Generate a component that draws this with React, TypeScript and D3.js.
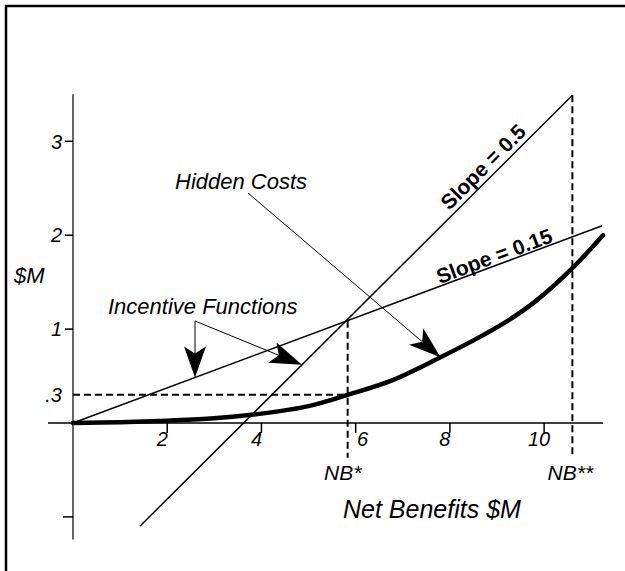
import * as d3 from 'd3'

// axis ticks
const xTicks = [2, 4, 6, 8, 10]
const yTicks = [3, 2, 1, -1]
const yTickLabels = ['3', '2', '1', '']
const costLevel = 0.3
const costLabel = '.3'

// hidden cost curve (thick)
const hiddenX = [0, 1, 2, 3, 4, 5, 5.83, 6.8, 7.8, 8.5, 9.2, 9.8, 10.6, 11.25]
const hiddenY = [0, 0.008, 0.025, 0.05, 0.1, 0.18, 0.3, 0.46, 0.7, 0.88, 1.08, 1.29, 1.65, 2.0]

// incentive functions
const flatX = [0, 11.23]
const flatY = [0, 2.1]
const steepX = [1.42, 10.6]
const steepY = [-1.1, 3.49]

const nbStar = 5.83
const nbStarStar = 10.6
const dashBottom = -0.37

const FONT = "Arial, 'Liberation Sans', sans-serif"

const x = d3.scaleLinear().domain([0, 11.25]).range([73, 603])
const y = d3.scaleLinear().domain([0, 3]).range([423, 141.3])

const lineOn = (xs: number[], ys: number[]) => (v: number) =>
  ys[0] + ((ys[1] - ys[0]) * (v - xs[0])) / (xs[1] - xs[0])
const flatAt = lineOn(flatX, flatY)
const steepAt = lineOn(steepX, steepY)
const hiddenAt = (v: number) => {
  const i = d3.bisectLeft(hiddenX, v)
  if (i <= 0) return hiddenY[0]
  const t = (v - hiddenX[i - 1]) / (hiddenX[i] - hiddenX[i - 1])
  return hiddenY[i - 1] + t * (hiddenY[i] - hiddenY[i - 1])
}

function arrowHead(tx: number, ty: number, fx: number, fy: number, len = 30, half = 10, notch = 8) {
  const a = Math.atan2(ty - fy, tx - fx)
  const ux = Math.cos(a), uy = Math.sin(a)
  const nx = -uy, ny = ux
  const bx = tx - ux * len, by = ty - uy * len
  const pts = [
    [tx, ty],
    [bx + nx * half, by + ny * half],
    [tx - ux * (len - notch), ty - uy * (len - notch)],
    [bx - nx * half, by - ny * half],
  ]
  return {
    d: 'M' + pts.map(p => p.join(',')).join('L') + 'Z',
    neck: pts[2],
  }
}

function SlopeLabel({ xs, ys, at, text, off }: { xs: number[]; ys: number[]; at: number; text: string; off: number }) {
  const f = lineOn(xs, ys)
  const px = x(at), py = y(f(at))
  const ang = (Math.atan2(y(ys[1]) - y(ys[0]), x(xs[1]) - x(xs[0])) * 180) / Math.PI
  return (
    <text
      transform={`translate(${px},${py}) rotate(${ang})`}
      y={-off}
      textAnchor="middle"
      fontFamily={FONT}
      fontWeight="bold"
      fontSize={21}
    >
      {text}
    </text>
  )
}

export default function App() {
  const curve = d3.line<number>()
    .x((_, i) => x(hiddenX[i]))
    .y(d => y(d))
    .curve(d3.curveCatmullRom.alpha(0.5))(hiddenY) || ''

  // annotation leaders
  const hcFrom = [248, 193]
  const hcTipX = 7.8
  const hc = arrowHead(x(hcTipX), y(hiddenAt(hcTipX)), hcFrom[0], hcFrom[1], 32, 11, 8)

  const ifFrom = [195, 321]
  const tip1X = x.invert(195)
  const a1 = arrowHead(x(tip1X), y(flatAt(tip1X)), ifFrom[0], ifFrom[1], 31, 11, 7)
  const tip2X = 4.86
  const a2 = arrowHead(x(tip2X), y(steepAt(tip2X)), ifFrom[0], ifFrom[1], 32, 11, 7)

  return (
    <svg
      width={625}
      height={571}
      style={{ position: 'absolute', left: 0, top: 0, display: 'block', background: '#fff' }}
    >
      {/* frame */}
      <path d="M6,575V6H630" fill="none" stroke="#000" strokeWidth={2.5} />

      {/* axes */}
      <line x1={x(-0.53)} x2={x(11.25)} y1={y(0)} y2={y(0)} stroke="#000" strokeWidth={1.5} />
      <line x1={x(0)} x2={x(0)} y1={y(3.5)} y2={y(-1.24)} stroke="#000" strokeWidth={1.2} />

      {xTicks.map(t => (
        <g key={t}>
          <line x1={x(t)} x2={x(t)} y1={y(0)} y2={y(0) + 10} stroke="#000" strokeWidth={1.5} />
          <text
            x={x(t) + (t === 6 ? 7 : -5)}
            y={446}
            textAnchor="middle"
            fontFamily={FONT}
            fontStyle="italic"
            fontSize={20}
          >
            {t}
          </text>
        </g>
      ))}

      {yTicks.map((t, i) => (
        <g key={t}>
          <line x1={x(0) - (t < 0 ? 10 : 8)} x2={x(0)} y1={y(t)} y2={y(t)} stroke="#000" strokeWidth={1.5} />
          <text
            x={62}
            y={y(t)}
            dy="0.36em"
            textAnchor="end"
            fontFamily={FONT}
            fontStyle="italic"
            fontSize={20}
          >
            {yTickLabels[i]}
          </text>
        </g>
      ))}
      <text x={62} y={y(costLevel)} dy="0.36em" textAnchor="end" fontFamily={FONT} fontStyle="italic" fontSize={20}>
        {costLabel}
      </text>

      {/* dashed guides */}
      <g stroke="#000" strokeWidth={2} strokeDasharray="7,4" fill="none">
        <line x1={x(0)} x2={x(nbStar)} y1={y(costLevel)} y2={y(costLevel)} />
        <line x1={x(nbStar)} x2={x(nbStar)} y1={y(flatAt(nbStar))} y2={y(dashBottom)} />
        <line x1={x(nbStarStar)} x2={x(nbStarStar)} y1={y(steepAt(nbStarStar))} y2={y(dashBottom)} />
      </g>

      {/* incentive lines */}
      <line x1={x(flatX[0])} y1={y(flatY[0])} x2={x(flatX[1])} y2={y(flatY[1])} stroke="#000" strokeWidth={1.5} />
      <line x1={x(steepX[0])} y1={y(steepY[0])} x2={x(steepX[1])} y2={y(steepY[1])} stroke="#000" strokeWidth={1.5} />

      {/* hidden cost curve */}
      <path d={curve} fill="none" stroke="#000" strokeWidth={4.5} strokeLinecap="round" />

      <SlopeLabel xs={steepX} ys={steepY} at={8.89} text="Slope = 0.5" off={5} />
      <SlopeLabel xs={flatX} ys={flatY} at={9.01} text="Slope = 0.15" off={2} />

      {/* annotations */}
      <text x={175} y={189} fontFamily={FONT} fontStyle="italic" fontSize={22}>Hidden Costs</text>
      <line x1={hcFrom[0]} y1={hcFrom[1]} x2={hc.neck[0]} y2={hc.neck[1]} stroke="#000" strokeWidth={1} />
      <path d={hc.d} fill="#000" />

      <text x={108} y={314} fontFamily={FONT} fontStyle="italic" fontSize={22}>Incentive Functions</text>
      <line x1={ifFrom[0]} y1={ifFrom[1]} x2={a1.neck[0]} y2={a1.neck[1]} stroke="#000" strokeWidth={1} />
      <line x1={ifFrom[0]} y1={ifFrom[1]} x2={a2.neck[0]} y2={a2.neck[1]} stroke="#000" strokeWidth={1} />
      <path d={a1.d} fill="#000" />
      <path d={a2.d} fill="#000" />

      <text x={14} y={283} fontFamily={FONT} fontStyle="italic" fontSize={22}>$M</text>

      <text x={x(nbStar) - 5} y={480} textAnchor="middle" fontFamily={FONT} fontStyle="italic" fontSize={21}>NB*</text>
      <text x={x(nbStarStar) - 2} y={480} textAnchor="middle" fontFamily={FONT} fontStyle="italic" fontSize={21}>NB**</text>

      <text x={343} y={518} fontFamily={FONT} fontStyle="italic" fontSize={25}>Net Benefits $M</text>
    </svg>
  )
}
